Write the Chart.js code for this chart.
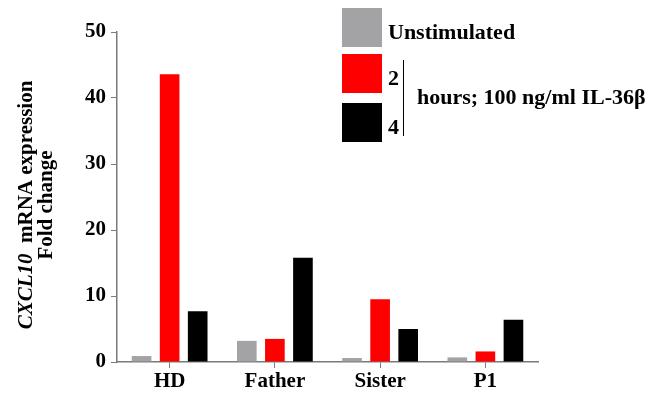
<!DOCTYPE html>
<html lang="en">
<head>
    <meta charset="UTF-8">
    <title>CXCL10 fold change</title>
    <style>
        body { margin: 0; background: #fff; }
        .wrap { width: 651px; height: 394px; position: relative; }
    </style>
</head>
<body>
    <div class="wrap"><canvas id="chart" width="651" height="394"></canvas></div>
    <script src="https://cdn.jsdelivr.net/npm/chart.js"></script>
    <script>
        const categories = ['HD', 'Father', 'Sister', 'P1'];
        const seriesLabels = ['Unstimulated', '2', '4'];
        const unstimulated = [0.9, 3.2, 0.6, 0.7];
        const twoHours = [43.6, 3.5, 9.5, 1.6];
        const fourHours = [7.7, 15.8, 5.0, 6.4];
        const yTicks = [0, 10, 20, 30, 40, 50];
        const legendNote = 'hours; 100 ng/ml IL-36\u03b2';
        const axisTitle = ['CXCL10', '  mRNA expression', 'Fold change'];

        const colors = ['#a3a3a6', '#ff0000', '#000000'];
        const serif = '"Liberation Serif", "Times New Roman", serif';
        const axisGray = '#7a7a7a';

        // custom legend + two-line rotated axis title (italic gene name)
        const extras = {
            id: 'extras',
            afterDraw(chart) {
                const ctx = chart.ctx;
                ctx.save();
                ctx.textBaseline = 'middle';

                const boxX = 342, boxW = 40, boxH = 39;
                const boxY = [8, 54, 103];
                ctx.font = 'bold 22px ' + serif;
                ctx.textAlign = 'left';
                seriesLabels.forEach((lab, i) => {
                    ctx.fillStyle = colors[i];
                    ctx.fillRect(boxX, boxY[i], boxW, boxH);
                    ctx.fillStyle = '#000';
                    ctx.fillText(lab, boxX + 46, boxY[i] + 25);
                });
                ctx.strokeStyle = '#000';
                ctx.lineWidth = 1;
                ctx.beginPath();
                ctx.moveTo(403.5, 60);
                ctx.lineTo(403.5, 136);
                ctx.stroke();
                ctx.fillText(legendNote, 417, 98);

                // y axis title
                ctx.translate(27, 205);
                ctx.rotate(-Math.PI / 2);
                const fs = 21;
                ctx.font = 'italic bold ' + fs + 'px ' + serif;
                const w1 = ctx.measureText(axisTitle[0]).width;
                ctx.font = 'bold ' + fs + 'px ' + serif;
                const w2 = ctx.measureText(axisTitle[1]).width;
                const x = -(w1 + w2) / 2;
                ctx.textAlign = 'left';
                ctx.font = 'italic bold ' + fs + 'px ' + serif;
                ctx.fillText(axisTitle[0], x, 0);
                ctx.font = 'bold ' + fs + 'px ' + serif;
                ctx.fillText(axisTitle[1], x + w1, 0);
                ctx.textAlign = 'center';
                ctx.fillText(axisTitle[2], 0, 20);
                ctx.restore();
            }
        };

        new Chart(document.getElementById('chart'), {
            type: 'bar',
            data: {
                labels: categories,
                datasets: [unstimulated, twoHours, fourHours].map((d, i) => ({
                    label: seriesLabels[i],
                    data: d,
                    backgroundColor: colors[i],
                    categoryPercentage: 0.8,
                    barPercentage: 0.7
                }))
            },
            options: {
                responsive: false,
                animation: false,
                layout: { padding: { left: 0, right: 113, top: 32, bottom: 0 } },
                plugins: { legend: { display: false }, tooltip: { enabled: false } },
                scales: {
                    x: {
                        grid: { display: true, drawOnChartArea: false, drawTicks: true, tickLength: 6, color: axisGray, offset: false },
                        border: { display: true, color: axisGray, width: 1.5 },
                        ticks: { color: '#000', font: { family: serif, size: 21, weight: 'bold' }, padding: 1 },
                        afterFit(s) { s.height = 32; }
                    },
                    y: {
                        min: 0, max: 50,
                        afterBuildTicks(s) { s.ticks = yTicks.map(v => ({ value: v })); },
                        grid: { display: true, drawOnChartArea: false, drawTicks: true, tickLength: 6, color: axisGray },
                        border: { display: true, color: axisGray, width: 1.5 },
                        ticks: { color: '#000', font: { family: serif, size: 21, weight: 'bold' }, padding: 5 },
                        afterFit(s) { s.width = 117; }
                    }
                }
            },
            plugins: [extras]
        });
    </script>
</body>
</html>
